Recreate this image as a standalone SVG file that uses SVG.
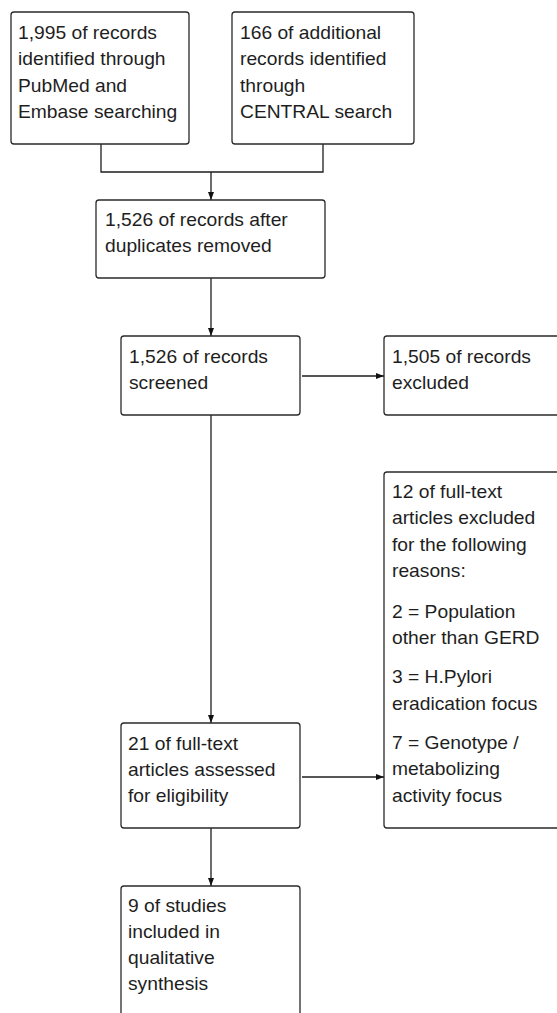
<svg xmlns="http://www.w3.org/2000/svg" width="557" height="1013" viewBox="0 0 557 1013">
<style>
.box{fill:#fff;stroke:#2a2a2a;stroke-width:1.3}
.t{font-family:"Liberation Sans",Arial,sans-serif;font-size:17.5px;fill:#1e1e1e}
.ln{fill:none;stroke:#1e1e1e;stroke-width:1.3}
</style>
<defs>
<marker id="ah" markerUnits="userSpaceOnUse" markerWidth="10" markerHeight="8" refX="9" refY="4" orient="auto">
<path d="M1,1 L9,4 L1,7 Z" fill="#111"/>
</marker>
</defs>
<rect width="557" height="1013" fill="#fff"/>
<g id="connectors">
<path class="ln" d="M101,144 V172 H323 V144"/>
<path class="ln" d="M211,172 V200" marker-end="url(#ah)"/>
<path class="ln" d="M211,278 V336" marker-end="url(#ah)"/>
<path class="ln" d="M302,376 H384" marker-end="url(#ah)"/>
<path class="ln" d="M211,415 V723" marker-end="url(#ah)"/>
<path class="ln" d="M302,777 H384" marker-end="url(#ah)"/>
<path class="ln" d="M211,828 V886" marker-end="url(#ah)"/>
</g>
<g id="n1">
<rect class="box" x="11" y="12" width="178" height="132" rx="3"/>
<text class="t" transform="translate(18,39) scale(1.1,1)"><tspan x="0" y="0">1,995 of records</tspan><tspan x="0" y="26.4">identified through</tspan><tspan x="0" y="52.8">PubMed and</tspan><tspan x="0" y="79.2">Embase searching</tspan></text>
</g>
<g id="n2">
<rect class="box" x="232" y="12" width="182" height="132" rx="3"/>
<text class="t" transform="translate(240,39) scale(1.1,1)"><tspan x="0" y="0">166 of additional</tspan><tspan x="0" y="26.4">records identified</tspan><tspan x="0" y="52.8">through</tspan><tspan x="0" y="79.2">CENTRAL search</tspan></text>
</g>
<g id="n3">
<rect class="box" x="96" y="200" width="229" height="78" rx="3"/>
<text class="t" transform="translate(105,226) scale(1.1,1)"><tspan x="0" y="0">1,526 of records after</tspan><tspan x="0" y="26.4">duplicates removed</tspan></text>
</g>
<g id="n4">
<rect class="box" x="121" y="336" width="179" height="79" rx="3"/>
<text class="t" transform="translate(129,363) scale(1.1,1)"><tspan x="0" y="0">1,526 of records</tspan><tspan x="0" y="26.4">screened</tspan></text>
</g>
<g id="n5">
<rect class="box" x="384" y="336" width="180" height="79" rx="3"/>
<text class="t" transform="translate(392,363) scale(1.1,1)"><tspan x="0" y="0">1,505 of records</tspan><tspan x="0" y="26.4">excluded</tspan></text>
</g>
<g id="n6">
<rect class="box" x="384" y="472" width="180" height="356" rx="3"/>
<text class="t" transform="translate(392,498) scale(1.1,1)"><tspan x="0" y="0">12 of full-text</tspan><tspan x="0" y="26.4">articles excluded</tspan><tspan x="0" y="52.8">for the following</tspan><tspan x="0" y="79.2">reasons:</tspan><tspan x="0" y="120">2 = Population</tspan><tspan x="0" y="146.4">other than GERD</tspan><tspan x="0" y="185.3">3 = H.Pylori</tspan><tspan x="0" y="211.7">eradication focus</tspan><tspan x="0" y="251">7 = Genotype /</tspan><tspan x="0" y="277.4">metabolizing</tspan><tspan x="0" y="303.8">activity focus</tspan></text>
</g>
<g id="n7">
<rect class="box" x="121" y="723" width="179" height="105" rx="3"/>
<text class="t" transform="translate(128,750) scale(1.1,1)"><tspan x="0" y="0">21 of full-text</tspan><tspan x="0" y="26.4">articles assessed</tspan><tspan x="0" y="52.2">for eligibility</tspan></text>
</g>
<g id="n8">
<rect class="box" x="121" y="886" width="179" height="140" rx="3"/>
<text class="t" transform="translate(128,912) scale(1.1,1)"><tspan x="0" y="0">9 of studies</tspan><tspan x="0" y="26.4">included in</tspan><tspan x="0" y="52.4">qualitative</tspan><tspan x="0" y="78.4">synthesis</tspan></text>
</g>
</svg>
